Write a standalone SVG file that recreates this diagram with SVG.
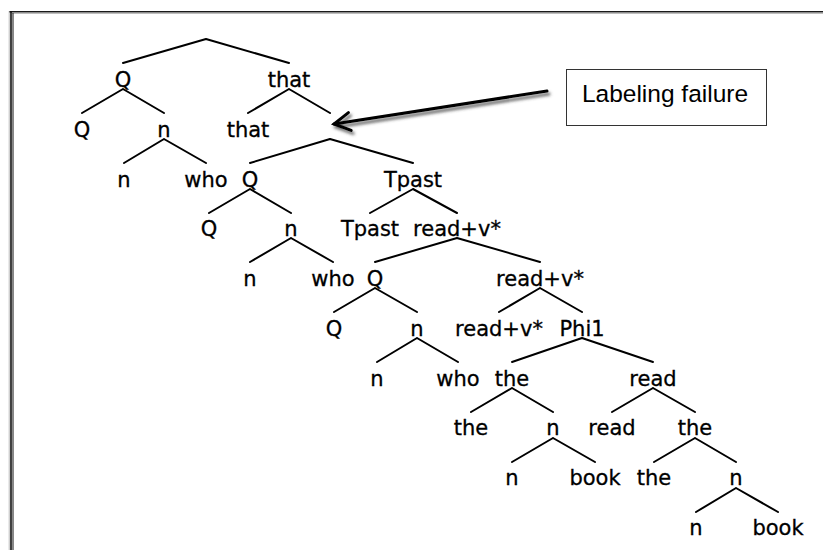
<svg xmlns="http://www.w3.org/2000/svg" width="823" height="550" viewBox="0 0 823 550">
<style>
.lbl{font-family:"DejaVu Sans","Liberation Sans",sans-serif;font-size:21px;fill:#000;stroke:#000;stroke-width:0.3;text-anchor:middle}
.edge{stroke:#000;stroke-width:2;fill:none;stroke-linecap:round}
.box{fill:#fff;stroke:#333;stroke-width:1}
.boxtxt{font-family:"Liberation Sans",Arial,sans-serif;font-size:24.5px;fill:#000;text-anchor:middle}
</style>
<defs>
<marker id="openhead" markerUnits="userSpaceOnUse" viewBox="-20 -12 24 24" refX="0" refY="0" markerWidth="24" markerHeight="24" orient="auto">
<path d="M -16 -9 L 0 0 L -16 9" fill="none" stroke="#000" stroke-width="3" stroke-linejoin="miter" stroke-linecap="round"/>
</marker>
<filter id="shadow" x="-10%" y="-50%" width="120%" height="200%">
<feDropShadow dx="2" dy="3" stdDeviation="1.5" flood-color="#444" flood-opacity="0.8"/>
</filter>
</defs>
<rect width="823" height="550" fill="#fff"/>
<g id="frame">
<line x1="9" y1="11.8" x2="823" y2="11.8" stroke="#1a1a1a" stroke-width="1.6"/>
<line x1="12" y1="13.3" x2="823" y2="13.3" stroke="#999" stroke-width="0.8"/>
<line x1="9.2" y1="11" x2="9.2" y2="550" stroke="#aaa" stroke-width="0.8"/>
<line x1="11" y1="11" x2="11" y2="550" stroke="#111" stroke-width="1.6"/>
<line x1="13" y1="13" x2="13" y2="550" stroke="#111" stroke-width="1"/>
</g>
<g id="connectors">
<path class="edge" d="M206 39L123 63M206 39L289 63"/>
<path class="edge" d="M123 89L82 113M123 89L164 113"/>
<path class="edge" d="M164 139L124 163M164 139L206 163"/>
<path class="edge" d="M289 89L248 113M289 89L330 113"/>
<path class="edge" d="M330 139L250 163M330 139L413 163"/>
<path class="edge" d="M250 189L209 213M250 189L291 213"/>
<path class="edge" d="M291 238L250 262M291 238L333 262"/>
<path class="edge" d="M413 189L370 213M413 189L457 213"/>
<path class="edge" d="M457 238L375 262M457 238L540 262"/>
<path class="edge" d="M375 288L334 312M375 288L417 312"/>
<path class="edge" d="M417 338L377 362M417 338L458 362"/>
<path class="edge" d="M540 288L499 312M540 288L582 312"/>
<path class="edge" d="M582 338L512 362M582 338L653 362"/>
<path class="edge" d="M512 388L471 412M512 388L553 412"/>
<path class="edge" d="M553 438L512 462M553 438L595 462"/>
<path class="edge" d="M653 388L612 412M653 388L695 412"/>
<path class="edge" d="M695 438L654 462M695 438L736 462"/>
<path class="edge" d="M736 488L696 512M736 488L778 512"/>
<g id="arrow" filter="url(#shadow)">
<line x1="547" y1="91" x2="334" y2="124" stroke="#000" stroke-width="3" stroke-linecap="round" marker-end="url(#openhead)"/>
</g>
</g>
<g id="callout">
<rect class="box" x="566.5" y="69.5" width="200" height="56"/>
<text class="boxtxt" x="665" y="102">Labeling failure</text>
</g>
<g id="root"/>
<g id="n1"><text class="lbl" x="123" y="87">Q</text></g>
<g id="n2"><text class="lbl" x="289" y="87">that</text></g>
<g id="n3"><text class="lbl" x="82" y="137">Q</text></g>
<g id="n4"><text class="lbl" x="164" y="137">n</text></g>
<g id="n5"><text class="lbl" x="248" y="137">that</text></g>
<g id="n6"/>
<g id="n7"><text class="lbl" x="124" y="187">n</text></g>
<g id="n8"><text class="lbl" x="206" y="187">who</text></g>
<g id="n9"><text class="lbl" x="250" y="187">Q</text></g>
<g id="n10"><text class="lbl" x="413" y="187">Tpast</text></g>
<g id="n11"><text class="lbl" x="209" y="236">Q</text></g>
<g id="n12"><text class="lbl" x="291" y="236">n</text></g>
<g id="n13"><text class="lbl" x="370" y="236">Tpast</text></g>
<g id="n14"><text class="lbl" x="457" y="236">read+v*</text></g>
<g id="n15"><text class="lbl" x="250" y="286">n</text></g>
<g id="n16"><text class="lbl" x="333" y="286">who</text></g>
<g id="n17"><text class="lbl" x="375" y="286">Q</text></g>
<g id="n18"><text class="lbl" x="540" y="286">read+v*</text></g>
<g id="n19"><text class="lbl" x="334" y="336">Q</text></g>
<g id="n20"><text class="lbl" x="417" y="336">n</text></g>
<g id="n21"><text class="lbl" x="499" y="336">read+v*</text></g>
<g id="n22"><text class="lbl" x="582" y="336">Phi1</text></g>
<g id="n23"><text class="lbl" x="377" y="386">n</text></g>
<g id="n24"><text class="lbl" x="458" y="386">who</text></g>
<g id="n25"><text class="lbl" x="512" y="386">the</text></g>
<g id="n26"><text class="lbl" x="653" y="386">read</text></g>
<g id="n27"><text class="lbl" x="471" y="435">the</text></g>
<g id="n28"><text class="lbl" x="553" y="435">n</text></g>
<g id="n29"><text class="lbl" x="612" y="435">read</text></g>
<g id="n30"><text class="lbl" x="695" y="435">the</text></g>
<g id="n31"><text class="lbl" x="512" y="485">n</text></g>
<g id="n32"><text class="lbl" x="595" y="485">book</text></g>
<g id="n33"><text class="lbl" x="654" y="485">the</text></g>
<g id="n34"><text class="lbl" x="736" y="485">n</text></g>
<g id="n35"><text class="lbl" x="696" y="535">n</text></g>
<g id="n36"><text class="lbl" x="778" y="535">book</text></g>
</svg>
